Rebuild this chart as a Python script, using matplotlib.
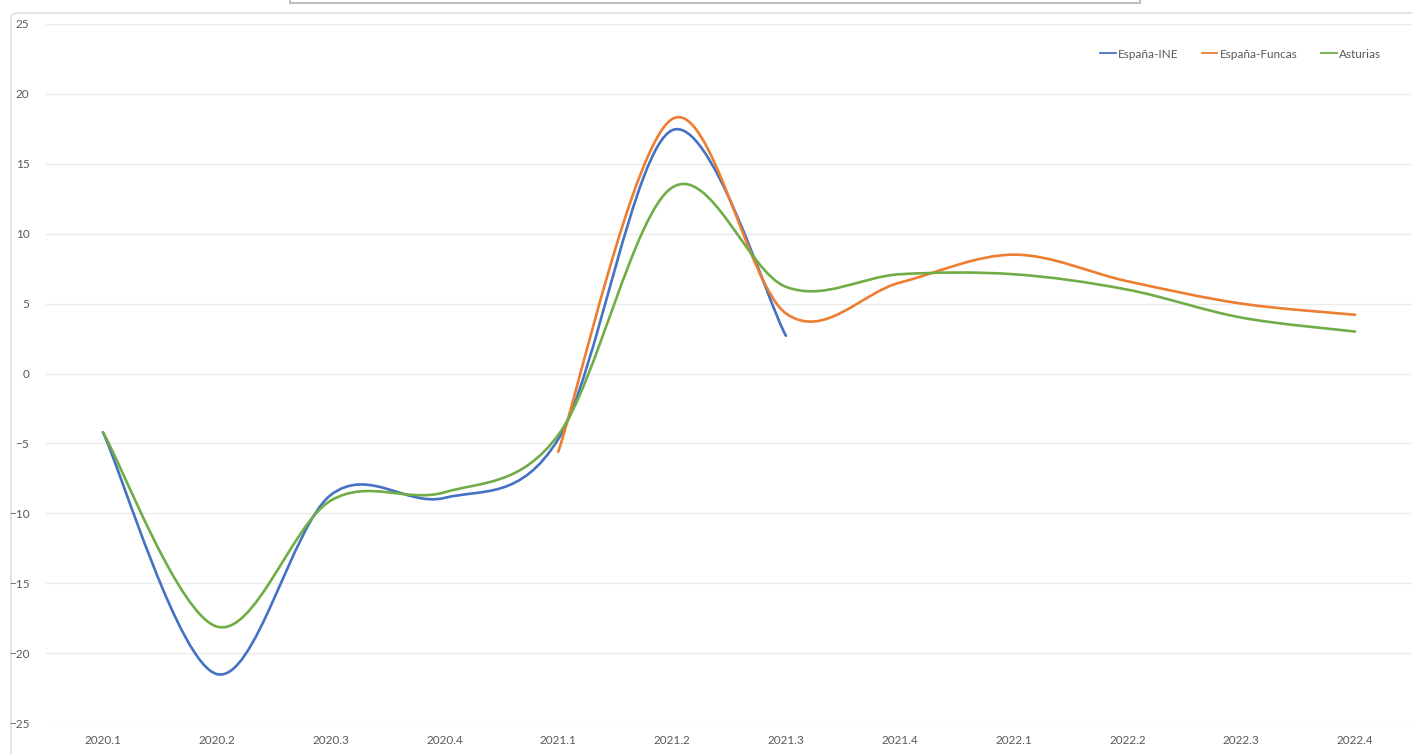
import numpy as np
import matplotlib.pyplot as plt
from matplotlib.path import Path
from matplotlib.patches import PathPatch, FancyBboxPatch, Rectangle

plt.rcParams['font.family'] = ['Lato', 'DejaVu Sans']

quarters = ['2020.1', '2020.2', '2020.3', '2020.4', '2021.1', '2021.2',
            '2021.3', '2021.4', '2022.1', '2022.2', '2022.3', '2022.4']
espana_ine = [-4.2, -21.5, -8.7, -8.9, -4.7, 17.4, 2.7,
              None, None, None, None, None]
espana_funcas = [None, None, None, None, -5.6, 18.2, 4.3,
                 6.5, 8.5, 6.6, 5.0, 4.2]
asturias = [-4.2, -18.1, -9.1, -8.5, -4.4, 13.3, 6.2,
            7.1, 7.1, 6.0, 4.0, 3.0]

series = [('España-INE', espana_ine, '#4472C4'),
          ('España-Funcas', espana_funcas, '#ED7D31'),
          ('Asturias', asturias, '#70AD47')]


def smooth_path(values):
    # curva suavizada tipo Excel (Bezier cúbica por tramos)
    pts = [(i, v) for i, v in enumerate(values) if v is not None]
    p = np.array(pts, dtype=float)
    n = len(p)
    verts = [p[0]]
    codes = [Path.MOVETO]
    for i in range(n - 1):
        p0 = p[i - 1] if i > 0 else p[i]
        p3 = p[i + 2] if i + 2 < n else p[i + 1]
        c1 = p[i] + (p[i + 1] - p0) / 6.0
        c2 = p[i + 1] - (p3 - p[i]) / 6.0
        verts += [c1, c2, p[i + 1]]
        codes += [Path.CURVE4] * 3
    return Path(verts, codes)


fig = plt.figure(figsize=(14.12, 7.54), dpi=100)
ax = fig.add_axes([46 / 1412, 31 / 754, 1 - 46 / 1412, (723 - 24) / 754])

for name, vals, col in series:
    ax.add_patch(PathPatch(smooth_path(vals), facecolor='none', edgecolor=col,
                           lw=1.9, capstyle='round', zorder=3))
    ax.plot([], [], color=col, lw=1.3, label=name)

ax.set_xlim(-0.5, len(quarters) - 0.5)
ax.set_ylim(-25, 25)
ax.set_yticks(np.arange(-25, 26, 5))
ax.set_xticks(range(len(quarters)))
ax.set_xticklabels(quarters)
ax.grid(axis='y', color='#ebebeb', lw=1.0)
ax.set_axisbelow(True)
for s in ax.spines.values():
    s.set_visible(False)
ax.tick_params(axis='both', length=0, labelsize=8.5, colors='#595959')
ax.tick_params(axis='y', pad=12)
ax.tick_params(axis='x', pad=9)
for lab in ax.get_yticklabels():
    lab.set_horizontalalignment('right')

ax.legend(loc='upper right', bbox_to_anchor=(0.985, 0.98), ncol=3,
          frameon=False, fontsize=8.5, handlelength=1.3, handletextpad=0.2,
          columnspacing=2.0, labelcolor='#595959')

# borde del área del gráfico y caja superior recortada
fig.add_artist(FancyBboxPatch((11 / 1412, -0.1), 1.2, 1.1 - 13 / 754,
                              boxstyle='round,pad=0,rounding_size=0.006',
                              transform=fig.transFigure, facecolor='none',
                              edgecolor='#d9d9d9', lw=1.0, zorder=0))
fig.add_artist(Rectangle((290 / 1412, 1 - 3 / 754), (1140 - 290) / 1412, 0.05,
                         transform=fig.transFigure, facecolor='white',
                         edgecolor='#bfbfbf', lw=1.5))

fig.savefig('out.png', dpi=100)
